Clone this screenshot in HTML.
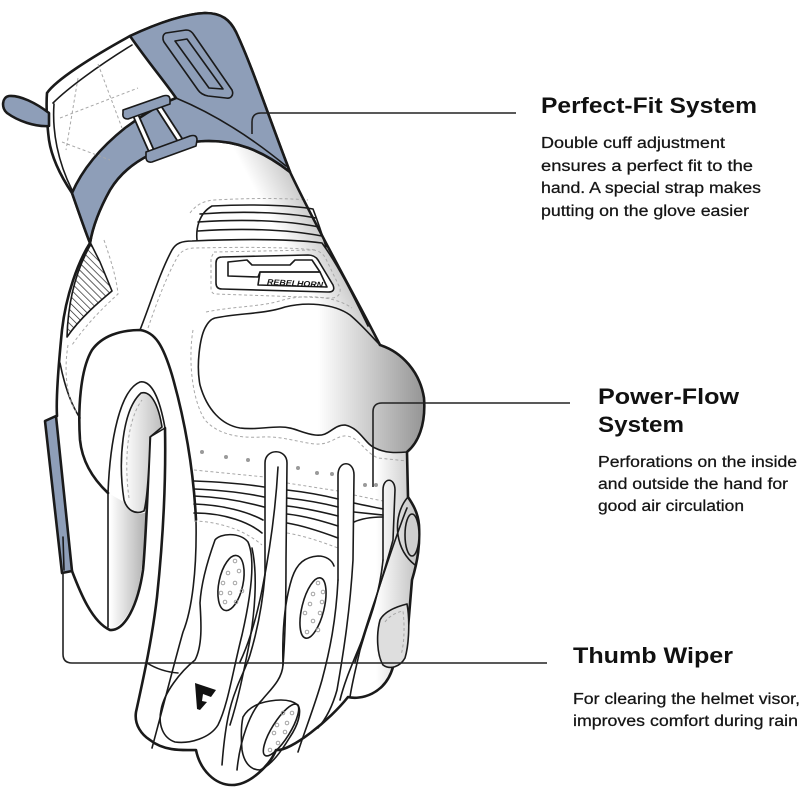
<!DOCTYPE html>
<html><head><meta charset="utf-8"><style>
html,body{margin:0;padding:0;background:#fff;}
svg{display:block;}
.o{stroke:#1a1a1a;stroke-width:2.6;stroke-linecap:round;stroke-linejoin:round}
.t{stroke:#1a1a1a;stroke-width:1.6;stroke-linecap:round;stroke-linejoin:round}
.d{stroke:#a8a8a8;stroke-width:1;fill:none;stroke-dasharray:3 2.5}
.p{stroke:#9a9a9a;stroke-width:0.9;fill:none}
.lead{stroke:#222;stroke-width:1.6;fill:none}
.h{font-family:"Liberation Sans",sans-serif;font-weight:bold;font-size:22px;fill:#111}
.b{font-family:"Liberation Sans",sans-serif;font-size:15.5px;fill:#151515;stroke:#151515;stroke-width:0.25}
</style></head><body>
<svg width="800" height="800" viewBox="0 0 800 800" xmlns="http://www.w3.org/2000/svg" fill="none">
<defs>
 <linearGradient id="gUp" gradientUnits="userSpaceOnUse" x1="314" y1="302" x2="352" y2="282">
  <stop offset="0" stop-color="#fff"/><stop offset="1" stop-color="#c6c6c6"/></linearGradient>
 <linearGradient id="gKn" gradientUnits="userSpaceOnUse" x1="318" y1="0" x2="426" y2="0">
  <stop offset="0" stop-color="#fff"/><stop offset="1" stop-color="#939393"/></linearGradient>
 <linearGradient id="gLow" gradientUnits="userSpaceOnUse" x1="376" y1="0" x2="421" y2="0">
  <stop offset="0" stop-color="#fff"/><stop offset="1" stop-color="#bcbcbc"/></linearGradient>
 <linearGradient id="gTh" gradientUnits="userSpaceOnUse" x1="110" y1="0" x2="146" y2="0">
  <stop offset="0" stop-color="#fff"/><stop offset="1" stop-color="#b0b0b0"/></linearGradient>
 <linearGradient id="gPad" gradientUnits="userSpaceOnUse" x1="124" y1="0" x2="162" y2="0">
  <stop offset="0" stop-color="#fff"/><stop offset="1" stop-color="#bdbdbd"/></linearGradient>
 <pattern id="hatch" width="5" height="5" patternUnits="userSpaceOnUse" patternTransform="rotate(-45)">
  <line x1="0" y1="0" x2="0" y2="5" stroke="#222" stroke-width="1.4"/></pattern>
 <clipPath id="clipH"><path d="M 90,243 C 78,262 66,295 62,330 C 58,370 56,400 57,415 L 62,572 L 72,572 C 80,595 92,625 110,630 C 125,630 140,600 147,560 L 150,437 L 165,428 C 166,480 163,540 157,597 C 152,640 143,680 136,712 C 134,725 142,735 150,740 C 165,752 185,750 196,750 C 200,770 215,785 232,785 C 250,785 270,765 276,750 C 290,752 330,720 348,697 C 360,700 385,695 393,667 C 400,658 407,645 408,628 L 412,580 C 418,560 420,545 419,525 C 418,512 412,503 408,497 L 407,452 C 420,440 428,420 424,395 C 418,370 400,352 380,345 C 352,290 320,235 290,172 L 265,135 L 240,60 L 90,60 Z"/></clipPath>
</defs>

<!-- gradients inside hand -->
<g clip-path="url(#clipH)">
 <path d="M 220,120 L 300,120 L 430,380 L 300,380 Z" style="fill:url(#gUp)"/>
 <rect x="370" y="445" width="60" height="270" style="fill:url(#gLow)"/>
</g>

<!-- knuckle -->
<path d="M 215,318 C 240,313 265,314 285,307 C 305,302 333,303 350,315 C 362,325 372,337 380,345 C 402,352 420,372 424,398 C 426,425 418,443 407,452 C 395,453 385,453 375,448 C 365,444 360,428 345,425 C 332,425 330,437 315,435 C 300,433 295,427 280,427 C 265,427 255,430 240,428 C 222,425 207,410 200,385 C 196,365 200,338 205,328 C 208,322 211,319 215,318 Z" style="fill:url(#gKn)" class="t"/>
<path class="d" d="M 206,312 C 235,306 262,307 283,300 C 305,294 335,296 352,308"/>
<path class="d" d="M 193,330 C 188,360 192,400 205,420 C 220,437 245,438 262,437 C 282,436 297,442 315,444 C 332,445 336,435 347,436 C 360,438 364,452 378,458 L 407,461"/>

<!-- cuff -->
<path d="M 47,93 C 56,80 90,58 130,36 C 160,22 185,14 205,13 C 222,13 230,20 236,32 C 252,66 268,115 290,172 C 262,150 235,140 205,141 C 165,143 128,160 110,190 C 100,208 93,225 90,243 C 84,228 78,210 72,193 C 62,178 52,160 49,140 C 47,125 46,105 47,93 Z" style="fill:#fff" class="o"/>
<path d="M 130,36 C 160,22 185,14 205,13 C 222,13 230,20 236,32 C 252,66 268,115 290,172 C 262,150 235,140 205,141 C 165,143 128,160 110,190 C 100,208 93,225 90,243 C 84,228 78,210 72,193 C 82,170 100,148 125,128 C 140,117 158,105 176,98 C 165,82 148,62 130,36 Z" style="fill:#8e9eb8" class="o"/>
<path class="t" d="M 176,98 C 200,108 240,128 286,166"/>
<path class="t" d="M 53,103 C 68,88 98,66 132,45"/>
<path class="t" d="M 54,104 C 52,132 58,162 72,190"/>
<path class="d" d="M 60,118 L 138,88 M 98,64 L 122,128 M 62,142 L 110,160 M 78,78 L 66,150"/>
<!-- logo slot -->
<path class="t" d="M 166,33 L 186,30 C 190,30 192,32 194,35 L 232,90 C 234,95 231,99 226,98 L 208,96 C 203,95 200,93 198,90 L 164,42 C 162,38 163,34 166,33 Z"/>
<path class="t" d="M 175,41 L 187,39 L 223,89 L 209,88 Z"/>
<!-- buckle -->
<path d="M 136,116 L 151,150" style="stroke:#1a1a1a;stroke-width:7"/>
<path d="M 136,116 L 151,150" style="stroke:#fff;stroke-width:3.4"/>
<path d="M 158,106 L 180,140" style="stroke:#1a1a1a;stroke-width:7"/>
<path d="M 158,106 L 180,140" style="stroke:#fff;stroke-width:3.4"/>
<path d="M 123,110 L 163,96 Q 170,94 170,100 L 170,104 L 128,119 Q 122,119 123,113 Z" style="fill:#8e9eb8" class="t"/>
<path d="M 146,152 L 190,136 Q 197,134 197,140 L 196,146 L 152,162 Q 146,163 146,157 Z" style="fill:#8e9eb8" class="t"/>
<!-- tab -->
<path d="M 49,113 C 36,103 20,95 9,96 C 2,97 1,108 7,113 C 18,121 35,127 49,126 Z" style="fill:#8e9eb8" class="o"/>

<!-- hatch -->
<path d="M 91,244 L 100,262 L 112,291 C 100,301 80,318 67,337 C 68,300 76,270 91,244 Z" style="fill:url(#hatch)" class="t"/>
<path class="d" d="M 104,240 C 110,258 116,275 118,294 C 105,306 88,322 72,345"/>

<!-- left outline & thumb -->
<path class="o" d="M 90,243 C 78,262 66,295 62,330 C 58,370 56,400 57,416"/>
<path d="M 45,421 L 56,416 L 72,571 L 62,573 Z" style="fill:#8e9eb8" class="o"/>
<path class="t" d="M 63,537 L 64,570"/>
<path d="M 108,493 L 108,628 C 120,630 132,612 138,590 C 143,565 146,530 147,512 C 138,516 128,512 124,502 Z" style="fill:url(#gTh)"/>
<path class="o" d="M 72,571 C 80,592 92,622 110,630 C 125,631 138,605 143,570 C 146,540 148,480 150,437"/>
<path class="t" d="M 150,437 L 165,428"/>
<path class="t" d="M 108,493 C 110,440 120,390 140,382 C 152,380 160,400 165,428"/>
<path d="M 124,500 C 118,462 122,410 141,393 C 152,390 159,408 162,427 L 150,437 C 149,470 147,500 144,511 C 135,515 127,510 124,500 Z" style="fill:url(#gPad)" class="t"/>
<path class="d" d="M 129,498 C 124,462 127,420 142,400"/>
<path class="t" d="M 108,627 L 108,493"/>
<path class="o" d="M 108,493 C 92,478 82,460 80,440 C 78,410 80,370 92,350 C 102,336 120,330 140,330 C 155,332 163,345 172,375 C 182,410 193,460 196,520"/>
<path class="t" d="M 196,520 C 197,570 192,610 183,632 C 175,660 165,700 152,748"/>
<path class="t" d="M 60,363 C 65,388 72,406 80,418"/>
<path class="d" d="M 68,345 C 64,370 66,395 76,412"/>

<!-- back panel -->
<path class="t" d="M 140,330 C 150,305 160,272 172,250 C 176,243 182,241 192,241 C 240,239 290,239 322,243 C 338,265 352,293 368,326"/>
<path class="d" d="M 148,328 C 157,302 167,275 178,256 C 182,250 188,248 196,248 C 240,247 288,247 316,250"/>
<!-- ribs -->
<path class="t" d="M 197,240 C 196,230 198,214 212,206 C 250,204 290,205 313,209 C 318,222 322,234 326,247"/>
<path class="t" d="M 200,214 C 240,211 285,212 316,218 M 198,222 C 240,219 285,220 319,227 M 198,231 C 240,228 285,229 322,236"/>
<path class="d" d="M 190,213 C 196,205 203,201 214,200 C 250,198 285,198 308,200"/>
<!-- logo plate -->
<path d="M 222,257 L 308,255 C 313,255 316,257 318,260 L 333,285 C 335,290 333,292 328,292 L 222,289 C 218,289 216,287 216,283 L 216,263 C 216,259 218,257 222,257 Z" style="fill:#fff" class="t"/>
<path class="t" d="M 228,262 L 247,260 L 252,265 L 290,265 L 295,260 L 312,260 L 320,272 L 260,272 L 258,277 L 228,276 Z"/>
<path class="t" d="M 260,272 L 320,272 L 327,287 L 258,285 Z"/>
<text x="267" y="286" font-family="Liberation Sans,sans-serif" font-weight="bold" font-style="italic" font-size="8" fill="#111" textLength="56" lengthAdjust="spacingAndGlyphs" transform="rotate(3 295 284)">REBELHORN</text>
<path class="d" d="M 214,252 L 312,250 C 318,250 322,253 325,257 L 340,288 C 341,295 337,298 331,298 L 216,294 C 212,294 211,291 211,288 L 211,258 Z"/>

<!-- right outer outline -->
<path class="o" d="M 290,172 C 320,235 352,290 380,345 C 402,352 420,372 424,398 C 426,425 418,443 407,452 L 408,497 C 412,503 418,512 419,525 C 420,545 418,560 412,580 L 408,628 C 407,645 400,658 393,667 C 385,695 360,700 348,697 C 330,720 290,752 276,750 C 270,765 250,785 232,785 C 215,785 200,770 196,750 C 185,750 165,752 150,740 C 142,735 134,725 136,712 C 143,680 152,640 157,597 C 163,540 166,480 165,428"/>

<!-- finger tops area -->
<g style="fill:#9a9a9a">
 <circle cx="202" cy="452" r="2"/><circle cx="226" cy="457" r="2"/><circle cx="248" cy="460" r="2"/>
 <circle cx="298" cy="468" r="2"/><circle cx="317" cy="473" r="2"/><circle cx="332" cy="474" r="2"/>
 <circle cx="365" cy="485" r="2"/><circle cx="376" cy="485" r="2"/>
</g>
<path class="d" d="M 194,470 L 265,477 M 287,483 L 338,491 M 354,495 L 383,501"/>
<path class="t" d="M 194,481 C 220,482 245,484 264,487 M 194,489 C 220,490 245,493 264,497 M 194,496 C 222,497 246,502 264,507 M 194,504 C 224,505 248,512 263,520 M 194,513 C 226,513 250,523 262,533"/>
<path class="t" d="M 287,490 C 305,492 322,495 338,499 M 287,498 C 305,500 322,503 338,507 M 287,506 C 305,508 322,512 338,516 M 287,514 C 305,516 322,521 338,526 M 287,523 C 305,526 322,532 338,538"/>
<path class="t" d="M 354,503 C 363,505 373,507 383,509 M 354,512 C 363,513 373,514 383,515 M 354,522 C 363,518 373,517 383,517"/>
<path class="d" d="M 194,521 C 225,522 248,533 262,545 M 287,533 C 305,536 322,542 338,548"/>

<!-- middle stripe -->
<path class="t" d="M 265,575 L 265,463 C 265,448 287,448 287,463 L 286,560 C 286,600 285,640 283,665 C 282,680 270,690 262,700 C 250,712 240,740 237,770"/>
<path class="t" d="M 278,467 C 275,520 268,560 262,590 C 256,620 248,645 240,662"/>
<path class="t" d="M 265,575 C 262,610 256,635 250,655 C 246,668 240,678 236,690 C 230,705 225,725 222,765"/>
<!-- ring stripe -->
<path class="t" d="M 338,580 L 338,475 C 338,460 354,460 354,475 L 353,560 C 350,610 344,650 337,690 C 332,708 325,720 318,728"/>
<path class="t" d="M 338,580 C 336,620 330,650 322,680 C 315,705 305,730 298,752"/>
<!-- pinky stripe -->
<path class="t" d="M 383,560 L 383,490 C 383,477 395,477 395,490 L 393,540 C 385,570 372,610 360,650 C 356,668 352,683 350,697"/>
<path class="t" d="M 383,560 C 380,590 372,615 362,640 C 352,665 345,680 340,700"/>
<path class="t" d="M 407,508 C 398,530 385,570 375,600 C 368,620 362,640 355,662"/>

<!-- index F panel -->
<path class="t" d="M 215,540 C 220,533 240,532 248,542 C 256,560 250,600 242,635 C 233,670 228,705 218,725 C 210,738 190,744 175,742 C 163,738 158,725 161,710 C 164,693 180,672 195,660 C 203,645 201,620 200,603 C 201,585 206,565 215,540 Z"/>
<path class="t" d="M 147,663 C 155,668 165,672 178,673"/>
<path class="t" d="M 252,548 C 258,575 255,615 248,650 C 243,675 238,700 230,725"/>
<!-- F logo -->
<path d="M 195,683 L 216,690 L 211,697 L 203,694 L 202,701 L 207,702 L 200,710 L 197,709 Z" style="fill:#111"/>
<ellipse cx="231" cy="583" rx="12" ry="28" transform="rotate(12 231 583)" class="t"/>
<g class="p">
 <circle cx="235" cy="561" r="1.8"/><circle cx="228" cy="573" r="1.8"/><circle cx="239" cy="571" r="1.8"/>
 <circle cx="223" cy="583" r="1.8"/><circle cx="235" cy="583" r="1.8"/><circle cx="221" cy="593" r="1.8"/>
 <circle cx="230" cy="593" r="1.8"/><circle cx="242" cy="591" r="1.8"/><circle cx="225" cy="602" r="1.8"/>
 <circle cx="236" cy="602" r="1.8"/>
</g>
<!-- ring panel -->
<path class="t" d="M 283,665 C 282,630 285,600 292,578 C 297,563 305,557 318,556 C 326,556 332,560 334,566"/>
<ellipse cx="313" cy="608" rx="11" ry="31" transform="rotate(14 313 608)" class="t"/>
<g class="p">
 <circle cx="318" cy="583" r="1.8"/><circle cx="323" cy="592" r="1.8"/><circle cx="313" cy="594" r="1.8"/>
 <circle cx="322" cy="602" r="1.8"/><circle cx="310" cy="604" r="1.8"/><circle cx="320" cy="613" r="1.8"/>
 <circle cx="305" cy="613" r="1.8"/><circle cx="313" cy="621" r="1.8"/><circle cx="318" cy="630" r="1.8"/>
 <circle cx="307" cy="632" r="1.8"/>
</g>
<!-- middle tip pad -->
<path class="t" d="M 243,717 C 248,708 257,703 270,701 C 282,699 292,700 298,705 C 302,712 298,725 290,737 C 282,750 272,765 260,770 C 250,770 244,762 242,750 C 241,738 241,726 243,717 Z"/>
<ellipse cx="281" cy="730" rx="9" ry="30" transform="rotate(32 281 730)" class="t"/>
<g class="p">
 <circle cx="292" cy="713" r="1.8"/><circle cx="283" cy="713" r="1.8"/><circle cx="287" cy="723" r="1.8"/>
 <circle cx="277" cy="725" r="1.8"/><circle cx="285" cy="732" r="1.8"/><circle cx="274" cy="733" r="1.8"/>
 <circle cx="278" cy="743" r="1.8"/><circle cx="270" cy="750" r="1.8"/>
</g>
<!-- right side pads -->
<ellipse cx="412" cy="535" rx="7" ry="21" style="fill:#cfcfcf" class="t"/>
<path class="t" d="M 408,497 C 400,506 396,520 398,535 C 400,548 406,558 415,565"/>
<path d="M 380,620 C 384,612 395,607 407,604 C 410,620 409,645 405,658 C 400,667 390,670 383,665 C 377,655 376,635 380,620 Z" style="fill:#dedede" class="t"/>
<path class="d" d="M 385,622 C 390,615 398,612 403,611 C 405,628 404,645 401,655"/>

<!-- leader lines -->
<path class="lead" d="M 252,134 L 252,122 Q 252,113 261,113 L 516,113"/>
<path class="lead" d="M 373,487 L 373,412 Q 373,403 382,403 L 570,403"/>
<path class="lead" d="M 63,573 L 63,654 Q 63,663 72,663 L 547,663"/>

<!-- text -->
<text class="h" x="541" y="113" textLength="216" lengthAdjust="spacingAndGlyphs">Perfect-Fit System</text>
<text class="b" x="541" y="148" textLength="184" lengthAdjust="spacingAndGlyphs">Double cuff adjustment</text>
<text class="b" x="541" y="171" textLength="212" lengthAdjust="spacingAndGlyphs">ensures a perfect fit to the</text>
<text class="b" x="541" y="193" textLength="220" lengthAdjust="spacingAndGlyphs">hand. A special strap makes</text>
<text class="b" x="541" y="216" textLength="208" lengthAdjust="spacingAndGlyphs">putting on the glove easier</text>

<text class="h" x="598" y="404" textLength="141" lengthAdjust="spacingAndGlyphs">Power-Flow</text>
<text class="h" x="598" y="432" textLength="86" lengthAdjust="spacingAndGlyphs">System</text>
<text class="b" x="598" y="467" textLength="199" lengthAdjust="spacingAndGlyphs">Perforations on the inside</text>
<text class="b" x="598" y="489" textLength="190" lengthAdjust="spacingAndGlyphs">and outside the hand for</text>
<text class="b" x="598" y="511" textLength="146" lengthAdjust="spacingAndGlyphs">good air circulation</text>

<text class="h" x="573" y="663" textLength="160" lengthAdjust="spacingAndGlyphs">Thumb Wiper</text>
<text class="b" x="573" y="704" textLength="227" lengthAdjust="spacingAndGlyphs">For clearing the helmet visor,</text>
<text class="b" x="573" y="726" textLength="225" lengthAdjust="spacingAndGlyphs">improves comfort during rain</text>
</svg>
</body></html>
